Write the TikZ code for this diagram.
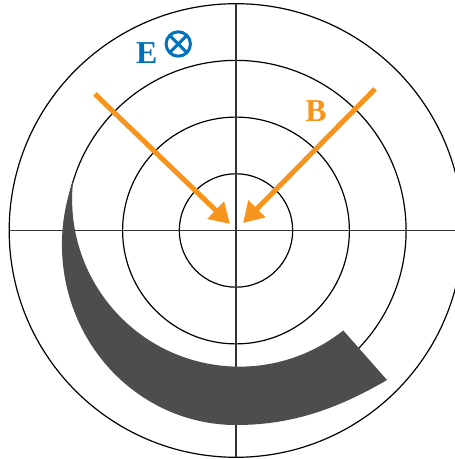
\documentclass[tikz,border=0pt]{standalone}
\usepackage{fontspec}
\setmainfont{Liberation Serif}
\usetikzlibrary{arrows.meta}
\definecolor{Track}{HTML}{4D4D4D}
\definecolor{Bfield}{HTML}{F7941D}
\definecolor{Efield}{HTML}{0072BC}
\tikzset{
  ring/.style={draw=black, line width=0.6pt},
  axisline/.style={draw=black!80, line width=0.6pt},
  bflow/.style={-{Triangle[length=10pt,width=11.5pt]}, line width=2.5pt, draw=Bfield},
  fieldname/.style={font=\fontsize{16}{16}\selectfont\bfseries, inner sep=0pt},
  intopage/.style={circle, draw=Efield, line width=1.5pt, minimum size=0.43cm,
    inner sep=0pt, outer sep=0pt}
}

\begin{document}
\begin{tikzpicture}
    \useasboundingbox (-4.162,-4.03) rectangle (3.862,4.065);
    \foreach \r in {1,2,3,4}
      \draw[ring] (0,0) circle (\r);
    \draw[axisline] (-4,0) -- (4,0);
    \draw[axisline] (0,-4) -- (0,4);
    % curling track
    \fill[Track] (-2.866,0.889)
        arc[start angle=159, end angle=270, x radius=3.07, y radius=3.18]
        .. controls (0.9,-3.43) and (1.7,-3.2) .. (2.663,-2.637)
        -- (1.892,-1.763)
        arc[start angle=-51.6, end angle=-186.5, radius=2.95] -- cycle;
    \coordinate (bl) at (-2.487,2.407);
    \coordinate (bltip) at (-0.106,0.115);
    \coordinate (br) at (2.451,2.496);
    \coordinate (brtip) at (0.123,0.132);
    \draw[bflow] (bl) -- (bltip);
    \draw[bflow] (br) -- (brtip);
    \node[fieldname,text=Efield] (ename) at (-1.575,3.131) {E};
    \node[intopage] (eout) at (-1.018,3.289) {};
    \draw[Efield,line width=1.5pt] (eout.north east) -- (eout.south west)
      (eout.north west) -- (eout.south east);
    \node[fieldname,text=Bfield] (bname) at (1.411,2.108) {B};
\end{tikzpicture}
\end{document}
